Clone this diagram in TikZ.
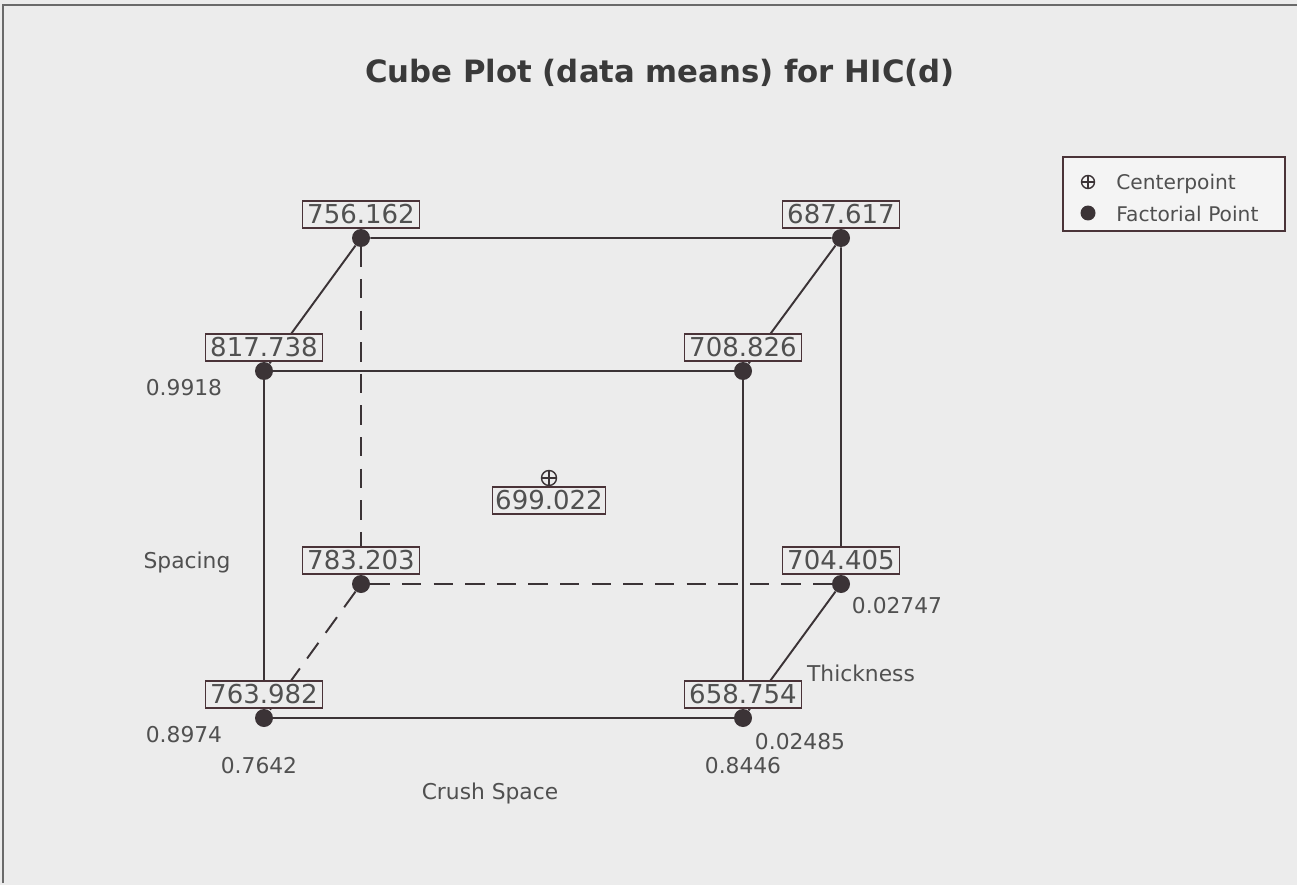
\documentclass[tikz,border=0pt]{standalone}
\usepackage{fontspec}
\setmainfont{DejaVu Sans}
\usepackage{tikz}
\usetikzlibrary{positioning}
\definecolor{bgGray}{HTML}{ECECEC}
\definecolor{legendGray}{HTML}{F4F4F4}
\definecolor{lineDark}{HTML}{3B3336}
\definecolor{boxBorder}{HTML}{4A3338}
\definecolor{textGray}{HTML}{505050}
\definecolor{titleGray}{HTML}{3A3A3A}
\definecolor{frameGray}{HTML}{6A6A6A}

\begin{document}
\begin{tikzpicture}[x=0.02cm, y=-0.02cm,
    corner/.style={circle, fill=lineDark, inner sep=0pt, minimum size=0.36cm},
    cpmark/.style={circle, draw=lineDark, line width=0.8pt, inner sep=0pt, minimum size=0.3cm,
        path picture={\draw[lineDark, line width=0.8pt]
            (path picture bounding box.north) -- (path picture bounding box.south)
            (path picture bounding box.west) -- (path picture bounding box.east);}},
    val/.style={draw=boxBorder, fill=bgGray, line width=0.9pt, inner sep=0pt,
        minimum width=2.34cm, minimum height=0.54cm, text=textGray,
        font=\fontsize{14.8}{16}\selectfont},
    axis/.style={text=textGray, inner sep=0pt, anchor=base, font=\fontsize{12.4}{14}\selectfont},
    edge/.style={lineDark, line width=1.1pt},
    hidden/.style={edge, dash pattern=on 11pt off 7pt}]
    \useasboundingbox (0,0) rectangle (1297,885);
    \fill[bgGray] (0,0) rectangle (1297,885);
    \draw[frameGray, line width=1pt] (3,883) -- (3,5) -- (1300,5);

    % Title
    \node[anchor=base, text=titleGray, font=\bfseries\fontsize{17.5}{20}\selectfont] (title) at (660,83)
        {Cube Plot (data means) for HIC(d)};

    % Corners (f/b = front/back, b/t = bottom/top, l/r = left/right)
    \node[corner] (fbl) at (264,718) {};
    \node[corner] (fbr) at (743,718) {};
    \node[corner] (ftl) at (264,371) {};
    \node[corner] (ftr) at (743,371) {};
    \node[corner] (bbl) at (361,584) {};
    \node[corner] (bbr) at (841,584) {};
    \node[corner] (btl) at (361,238) {};
    \node[corner] (btr) at (841,238) {};
    \node[cpmark] (cp) at (549,478) {};

    % Edges
    \draw[edge] (fbl) -- (fbr) -- (ftr) -- (ftl) -- (fbl);
    \draw[edge] (ftl) -- (btl) -- (btr) -- (bbr) -- (fbr);
    \draw[edge] (ftr) -- (btr);
    \draw[hidden] (btl) -- (bbl) -- (bbr);
    \draw[hidden] (bbl) -- (fbl);

    % Means
    \node[val, above=0pt of fbl] (vfbl) {763.982};
    \node[val, above=0pt of fbr] (vfbr) {658.754};
    \node[val, above=0pt of ftl] (vftl) {817.738};
    \node[val, above=0pt of ftr] (vftr) {708.826};
    \node[val, above=0pt of bbl] (vbbl) {783.203};
    \node[val, above=0pt of bbr] (vbbr) {704.405};
    \node[val, above=0pt of btl] (vbtl) {756.162};
    \node[val, above=0pt of btr] (vbtr) {687.617};
    \node[val, minimum width=2.26cm, below=0pt of cp] (vcp) {699.022};

    % Factor levels
    \node[axis] (sphi) at (184,395) {0.9918};
    \node[axis] (spname) at (187,568) {Spacing};
    \node[axis] (splo) at (184,742) {0.8974};
    \node[axis] (crlo) at (259,773) {0.7642};
    \node[axis] (crname) at (490,799) {Crush Space};
    \node[axis] (crhi) at (743,773) {0.8446};
    \node[axis] (thlo) at (800,749) {0.02485};
    \node[axis] (thname) at (861,681) {Thickness};
    \node[axis] (thhi) at (897,613) {0.02747};

    % Legend
    \node[draw=boxBorder, fill=legendGray, line width=0.9pt, minimum width=4.44cm, minimum height=1.48cm] (legend) at (1174,194) {};
    \node[cpmark, minimum size=0.26cm] (lgcp) at (1088,182) {};
    \node[corner, minimum size=0.3cm] (lgfp) at (1088,213) {};
    \node[axis, anchor=base west, font=\fontsize{11.5}{13}\selectfont] (lgcptext) at (1116,190) {Centerpoint};
    \node[axis, anchor=base west, font=\fontsize{11.5}{13}\selectfont] (lgfptext) at (1116,221) {Factorial Point};
\end{tikzpicture}
\end{document}
